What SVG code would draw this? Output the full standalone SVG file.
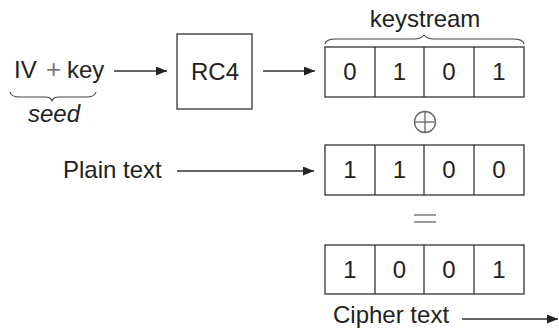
<svg xmlns="http://www.w3.org/2000/svg" width="559" height="328" viewBox="0 0 559 328">
<style>
text{font-family:"Liberation Sans",Arial,sans-serif;font-size:24px;fill:#222}
.box{fill:none;stroke:#333;stroke-width:1.3}
.div{stroke:#333;stroke-width:1.3}
.brace{fill:none;stroke:#444;stroke-width:1.2}
.conn{stroke:#333;stroke-width:1.3;fill:none}
.op{stroke:#666;stroke-width:1.3;fill:none}
.mid{text-anchor:middle}
</style>
<defs>
<marker id="ah" markerUnits="userSpaceOnUse" markerWidth="11" markerHeight="9" refX="11" refY="4.5" orient="auto">
<path d="M0,0 L11,4.5 L0,9 z" fill="#222"/>
</marker>
</defs>
<rect width="559" height="328" fill="#fff"/>
<g id="seed">
<text x="14" y="78">IV</text>
<text x="53.5" y="78" class="mid" style="fill:#777;font-size:26px">+</text>
<text x="67" y="78">key</text>
<path class="brace" d="M10,92 Q11,97 20,97 L45,97 Q51,97 52,101 Q53,97 59,97 L86,97 Q95,97 96,92"/>
<text x="54" y="122" class="mid" style="font-style:italic">seed</text>
</g>
<g id="rc4">
<rect class="box" x="177" y="34" width="75" height="75"/>
<text x="215" y="80" class="mid">RC4</text>
</g>
<g id="keystream">
<text x="425" y="27" class="mid">keystream</text>
<path class="brace" d="M325,44 Q326,39 336,39 L414,39 Q421,39 424,35 Q427,39 434,39 L513,39 Q523,39 524,44"/>
<rect class="box" x="325" y="47" width="199" height="50"/>
<line class="div" x1="375" y1="47" x2="375" y2="97"/>
<line class="div" x1="424" y1="47" x2="424" y2="97"/>
<line class="div" x1="474" y1="47" x2="474" y2="97"/>
<text x="350" y="80" class="mid">0</text>
<text x="399.5" y="80" class="mid">1</text>
<text x="449" y="80" class="mid">0</text>
<text x="499" y="80" class="mid">1</text>
</g>
<g id="xor">
<circle class="op" cx="425" cy="122" r="10.5"/>
<line class="op" x1="425" y1="111.5" x2="425" y2="132.5"/>
<line class="op" x1="414.5" y1="122" x2="435.5" y2="122"/>
</g>
<g id="plaintext">
<text x="63" y="178">Plain text</text>
<rect class="box" x="325" y="145" width="199" height="50"/>
<line class="div" x1="375" y1="145" x2="375" y2="195"/>
<line class="div" x1="424" y1="145" x2="424" y2="195"/>
<line class="div" x1="474" y1="145" x2="474" y2="195"/>
<text x="350" y="178" class="mid">1</text>
<text x="399.5" y="178" class="mid">1</text>
<text x="449" y="178" class="mid">0</text>
<text x="499" y="178" class="mid">0</text>
</g>
<g id="equals">
<line class="op" x1="414" y1="215" x2="436" y2="215"/>
<line class="op" x1="414" y1="222" x2="436" y2="222"/>
</g>
<g id="ciphertext">
<rect class="box" x="325" y="245" width="199" height="49"/>
<line class="div" x1="375" y1="245" x2="375" y2="294"/>
<line class="div" x1="424" y1="245" x2="424" y2="294"/>
<line class="div" x1="474" y1="245" x2="474" y2="294"/>
<text x="350" y="278" class="mid">1</text>
<text x="399.5" y="278" class="mid">0</text>
<text x="449" y="278" class="mid">0</text>
<text x="499" y="278" class="mid">1</text>
<text x="333" y="323">Cipher text</text>
</g>
<g id="connectors">
<line class="conn" x1="114" y1="71" x2="167" y2="71" marker-end="url(#ah)"/>
<line class="conn" x1="263" y1="71" x2="315" y2="71" marker-end="url(#ah)"/>
<line class="conn" x1="177" y1="171" x2="314" y2="171" marker-end="url(#ah)"/>
<line class="conn" x1="462" y1="319" x2="558" y2="319" marker-end="url(#ah)"/>
</g>
</svg>
